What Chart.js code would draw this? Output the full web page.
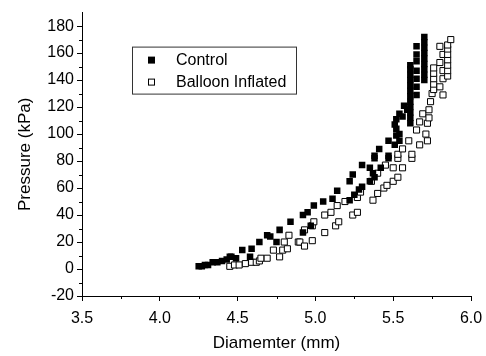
<!DOCTYPE html>
<html>
<head>
<meta charset="utf-8">
<script src="https://cdn.jsdelivr.net/npm/chart.js@4.4.0/dist/chart.umd.min.js"></script>
<style>
  html, body { margin: 0; padding: 0; background: #fff; }
  #wrap { width: 486px; height: 356px; }
</style>
</head>
<body>
<div id="wrap"><canvas id="myChart" width="486" height="356"></canvas></div>
<script>
// Datos: diametro (mm) y presion (kPa)
var controlX = [4.25, 4.27, 4.29, 4.31, 4.34, 4.37, 4.40, 4.43, 4.45, 4.46, 4.49, 4.53, 4.58, 4.59, 4.64, 4.69, 4.71, 4.75, 4.77, 4.84,
  4.92, 4.95, 4.92, 4.97, 4.99, 5.05, 5.11, 5.14, 5.22, 5.24, 5.22, 5.25, 5.28, 5.30, 5.30, 5.35, 5.35, 5.38, 5.37, 5.38,
  5.38, 5.41, 5.42, 5.47, 5.47, 5.47, 5.51, 5.52, 5.54, 5.54, 5.52, 5.51, 5.52, 5.54, 5.56, 5.57, 5.59, 5.61, 5.61, 5.61,
  5.61, 5.61, 5.61, 5.61, 5.61, 5.61, 5.61, 5.61, 5.61, 5.65, 5.65, 5.65, 5.65, 5.65, 5.65, 5.65, 5.70, 5.70, 5.70, 5.70,
  5.70, 5.70, 5.70, 5.70, 5.70];
var controlY = [2, 2, 3, 3, 5, 5, 6, 7, 9, 9, 8, 14, 9, 15, 20, 25, 24, 20, 29, 35,
  40, 42, 27, 32, 47, 50, 52, 58, 65, 70, 51, 55, 59, 61, 77, 65, 75, 68, 71, 84,
  82, 89, 75, 84, 82, 95, 92, 99, 95, 100, 104, 107, 111, 115, 113, 121, 118, 108, 112, 116,
  120, 124, 128, 132, 136, 140, 144, 148, 151, 129, 135, 141, 147, 154, 159, 165, 140, 144, 148, 152,
  156, 160, 164, 168, 172];

var balloonX = [4.45, 4.48, 4.51, 4.55, 4.59, 4.62, 4.64, 4.65, 4.69, 4.73, 4.77, 4.79, 4.80, 4.82, 4.83, 4.89, 4.90, 4.93, 4.93, 4.98,
  4.98, 4.99, 5.06, 5.06, 5.10, 5.13, 5.15, 5.14, 5.19, 5.24, 5.27, 5.27, 5.29, 5.37, 5.40, 5.44, 5.46, 5.50, 5.53, 5.36,
  5.40, 5.45, 5.50, 5.56, 5.53, 5.53, 5.56, 5.60, 5.62, 5.62, 5.65, 5.67, 5.67, 5.69, 5.72, 5.71, 5.72, 5.73, 5.73, 5.74,
  5.75, 5.76, 5.76, 5.76, 5.76, 5.76, 5.80, 5.82, 5.82, 5.82, 5.80, 5.82, 5.80, 5.85, 5.85, 5.85, 5.85, 5.85, 5.85, 5.85,
  5.87];
var balloonY = [2, 3, 3, 4, 5, 5, 6, 8, 8, 14, 9, 14, 20, 15, 25, 20, 20, 17, 29, 21,
  32, 35, 27, 40, 42, 32, 35, 47, 50, 40, 42, 53, 57, 51, 56, 60, 62, 65, 68, 65,
  71, 77, 75, 75, 82, 85, 89, 95, 82, 85, 103, 92, 109, 115, 108, 100, 95, 112, 118, 124,
  130, 133, 137, 141, 145, 149, 135, 129, 141, 147, 153, 159, 165, 143, 147, 151, 155, 159, 163, 166,
  170];

var seriesNames = ['Control', 'Balloon Inflated'];
var yTicks = [-20, 0, 20, 40, 60, 80, 100, 120, 140, 160, 180];
var xTicks = [3.5, 4.0, 4.5, 5.0, 5.5, 6.0];

function toPoints(xs, ys) {
  var pts = [];
  for (var i = 0; i < xs.length; i++) pts.push({ x: xs[i], y: ys[i] });
  return pts;
}

var FONT = "'Liberation Sans', Arial, sans-serif";

function esMayorX(v) { return xTicks.some(function (t) { return Math.abs(t - v) < 1e-6; }); }
function esMayorY(v) { return yTicks.indexOf(Math.round(v)) >= 0 && Math.abs(v - Math.round(v)) < 1e-6; }

// Ticks menores (mas cortos) y leyenda con borde
var extras = {
  id: 'extras',
  afterDraw: function (chart) {
    var ctx = chart.ctx;
    var xs = chart.scales.x, ys = chart.scales.y;
    ctx.save();
    ctx.strokeStyle = '#000';
    ctx.lineWidth = 1;
    ctx.beginPath();
    xs.ticks.forEach(function (t) {
      if (esMayorX(t.value)) return;
      var px = Math.round(xs.getPixelForValue(t.value)) + 0.5;
      ctx.moveTo(px, ys.bottom);
      ctx.lineTo(px, ys.bottom + 3);
    });
    ys.ticks.forEach(function (t) {
      if (esMayorY(t.value) || t.value > 180) return;
      var py = Math.round(ys.getPixelForValue(t.value)) + 0.5;
      ctx.moveTo(xs.left, py);
      ctx.lineTo(xs.left - 3, py);
    });
    ctx.stroke();

    // leyenda
    var ca = chart.chartArea;
    var lx = ca.left + 50, ly = ca.top + 34;
    ctx.strokeStyle = '#333';
    ctx.strokeRect(lx + 0.5, ly + 0.5, 164, 47);
    ctx.font = '16px ' + FONT;
    ctx.fillStyle = '#000';
    ctx.textBaseline = 'middle';
    var rows = [ly + 13, ly + 35];
    chart.data.datasets.forEach(function (ds, i) {
      var cy = rows[i];
      if (i === 0) {
        ctx.fillStyle = '#000';
        ctx.fillRect(lx + 16, cy - 3, 7, 7);
      } else {
        ctx.fillStyle = '#fff';
        ctx.fillRect(lx + 16, cy - 3, 7, 7);
        ctx.strokeStyle = '#000';
        ctx.strokeRect(lx + 16.5, cy - 2.5, 6, 6);
      }
      ctx.fillStyle = '#000';
      ctx.fillText(ds.label, lx + 44, cy + 1);
    });
    ctx.restore();
  }
};

var config = {
  type: 'scatter',
  data: {
    datasets: [{
      label: seriesNames[0],
      data: toPoints(controlX, controlY),
      pointStyle: 'rect',
      pointRadius: 4.6,
      backgroundColor: '#000',
      borderColor: '#000',
      borderWidth: 0
    }, {
      label: seriesNames[1],
      data: toPoints(balloonX, balloonY),
      pointStyle: 'rect',
      pointRadius: 4.3,
      backgroundColor: '#fff',
      borderColor: '#000',
      borderWidth: 1
    }]
  },
  options: {
    responsive: false,
    animation: false,
    layout: { padding: { left: 0, right: 15, top: 8, bottom: 0 } },
    plugins: {
      legend: { display: false },
      tooltip: { enabled: false }
    },
    scales: {
      x: {
        type: 'linear',
        min: 3.5,
        max: 6.0,
        afterFit: function (s) { s.height = 60; s.paddingRight = 0; },
        afterBuildTicks: function (s) {
          var t = [];
          for (var i = 0; i <= 10; i++) t.push({ value: 3.5 + i * 0.25 });
          s.ticks = t;
        },
        ticks: {
          color: '#000',
          font: { size: 16, family: FONT },
          padding: 8,
          maxRotation: 0,
          autoSkip: false,
          callback: function (v) { return esMayorX(v) ? v.toFixed(1) : ''; }
        },
        grid: {
          drawOnChartArea: false,
          tickLength: 5,
          tickColor: function (c) { return c.tick && esMayorX(c.tick.value) ? '#000' : 'rgba(0,0,0,0)'; }
        },
        border: { color: '#000', width: 1 },
        title: {
          display: true,
          text: 'Diamemter (mm)',
          color: '#000',
          font: { size: 17, family: FONT },
          padding: { top: 2, bottom: 2 }
        }
      },
      y: {
        type: 'linear',
        min: -20,
        max: 190,
        afterFit: function (s) { s.width = 82; },
        afterBuildTicks: function (s) {
          var t = [];
          for (var v = -20; v <= 190; v += 10) t.push({ value: v });
          s.ticks = t;
        },
        ticks: {
          color: '#000',
          font: { size: 16, family: FONT },
          padding: 3,
          autoSkip: false,
          callback: function (v) { return esMayorY(v) ? String(v) : ''; }
        },
        grid: {
          drawOnChartArea: false,
          tickLength: 5,
          tickColor: function (c) { return c.tick && esMayorY(c.tick.value) ? '#000' : 'rgba(0,0,0,0)'; }
        },
        border: { color: '#000', width: 1 },
        title: {
          display: true,
          text: 'Pressure (kPa)',
          color: '#000',
          font: { size: 17, family: FONT },
          padding: { top: 15, bottom: 4 }
        }
      }
    }
  },
  plugins: [extras]
};

var myChart = new Chart(document.getElementById('myChart').getContext('2d'), config);
</script>
</body>
</html>
